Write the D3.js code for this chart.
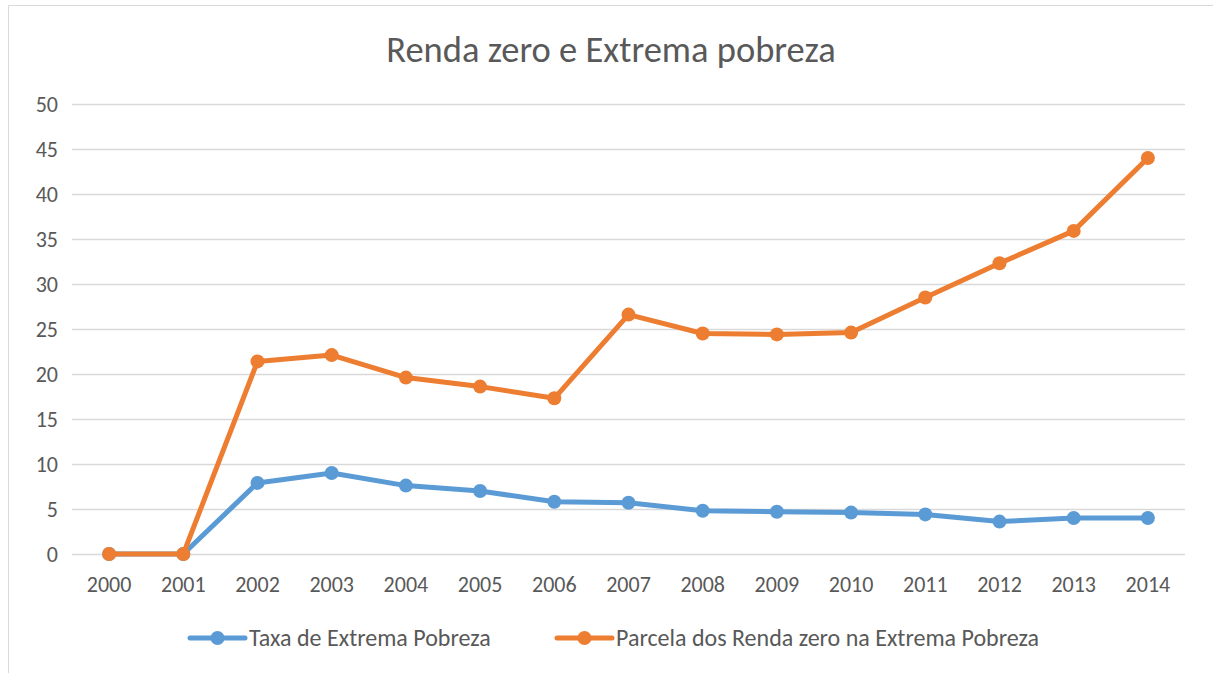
<!DOCTYPE html>
<html>
<head>
<meta charset="utf-8">
<script src="https://cdn.jsdelivr.net/npm/d3@7"></script>
<style>
  html, body { margin: 0; padding: 0; background: #fff; }
  svg { display: block; font-family: Carlito, Lato, "Open Sans", sans-serif; }
</style>
</head>
<body>
<svg id="chart" width="1213" height="673"></svg>
<script>
const years = ["2000","2001","2002","2003","2004","2005","2006","2007","2008","2009","2010","2011","2012","2013","2014"];
const taxaExtremaPobreza = [0, 0, 7.9, 9.0, 7.6, 7.0, 5.8, 5.7, 4.8, 4.7, 4.6, 4.4, 3.6, 4.0, 4.0];
const parcelaRendaZero = [0, 0, 21.4, 22.1, 19.6, 18.6, 17.3, 26.6, 24.5, 24.4, 24.6, 28.5, 32.3, 35.9, 44.0];
const yTicks = [0, 5, 10, 15, 20, 25, 30, 35, 40, 45, 50];
const seriesNames = ["Taxa de Extrema Pobreza", "Parcela dos Renda zero na Extrema Pobreza"];
const seriesColors = ["#5B9BD5", "#ED7D31"];
const title = "Renda zero e Extrema pobreza";

const svg = d3.select("#chart");
const textColor = "#595959";
const fontFam = "Carlito, Lato, 'Open Sans', sans-serif";

// chart border (top and left visible)
svg.append("line").attr("x1", 8.5).attr("x2", 1213).attr("y1", 5.5).attr("y2", 5.5)
  .attr("stroke", "#d9d9d9").attr("stroke-width", 1);
svg.append("line").attr("x1", 8.5).attr("x2", 8.5).attr("y1", 5.5).attr("y2", 673)
  .attr("stroke", "#d9d9d9").attr("stroke-width", 1);

const plot = { left: 72, right: 1185, top: 104, bottom: 554 };

const x = d3.scaleBand().domain(years).range([plot.left, plot.right]);
const y = d3.scaleLinear().domain([0, 50]).range([plot.bottom, plot.top]);

// title
svg.append("text")
  .attr("x", 611).attr("y", 62)
  .attr("text-anchor", "middle")
  .attr("font-size", 36.5)
  .attr("fill", textColor)
  .text(title);

// gridlines
svg.append("g").selectAll("line").data(yTicks).join("line")
  .attr("x1", plot.left).attr("x2", plot.right)
  .attr("y1", d => Math.round(y(d)) + 0.5).attr("y2", d => Math.round(y(d)) + 0.5)
  .attr("stroke", "#d9d9d9").attr("stroke-width", 1.3);

// y axis
const yAxis = svg.append("g")
  .attr("transform", `translate(${plot.left - 14},0)`)
  .call(d3.axisLeft(y).tickValues(yTicks).tickSize(0).tickPadding(0));
yAxis.select(".domain").remove();
yAxis.selectAll("text").attr("font-size", 22).attr("fill", textColor)
  .attr("font-family", fontFam);

// x axis
const xAxis = svg.append("g")
  .attr("transform", `translate(0,${plot.bottom + 22})`)
  .call(d3.axisBottom(x).tickSize(0).tickPadding(0));
xAxis.select(".domain").remove();
xAxis.selectAll("text").attr("font-size", 22).attr("fill", textColor)
  .attr("font-family", fontFam);

const cx = d => x(d) + x.bandwidth() / 2;
const line = d3.line().x((d, i) => cx(years[i])).y(d => y(d));

const allSeries = [taxaExtremaPobreza, parcelaRendaZero];
allSeries.forEach((vals, si) => {
  const g = svg.append("g");
  g.append("path").datum(vals)
    .attr("d", line)
    .attr("fill", "none")
    .attr("stroke", seriesColors[si])
    .attr("stroke-width", 5)
    .attr("stroke-linejoin", "round")
    .attr("stroke-linecap", "round");
  g.selectAll("circle").data(vals).join("circle")
    .attr("cx", (d, i) => cx(years[i]))
    .attr("cy", d => y(d))
    .attr("r", 7)
    .attr("fill", seriesColors[si]);
});

// legend
const legendItems = [
  { x0: 190, x1: 245, tx: 249 },
  { x0: 557, x1: 612, tx: 616 }
];
const ly = 638;
legendItems.forEach((it, i) => {
  const g = svg.append("g");
  g.append("line").attr("x1", it.x0).attr("x2", it.x1).attr("y1", ly).attr("y2", ly)
    .attr("stroke", seriesColors[i]).attr("stroke-width", 5).attr("stroke-linecap", "round");
  g.append("circle").attr("cx", (it.x0 + it.x1) / 2).attr("cy", ly).attr("r", 7).attr("fill", seriesColors[i]);
  g.append("text").attr("x", it.tx).attr("y", ly + 8)
    .attr("font-size", 24).attr("fill", textColor).text(seriesNames[i]);
});
</script>
</body>
</html>
